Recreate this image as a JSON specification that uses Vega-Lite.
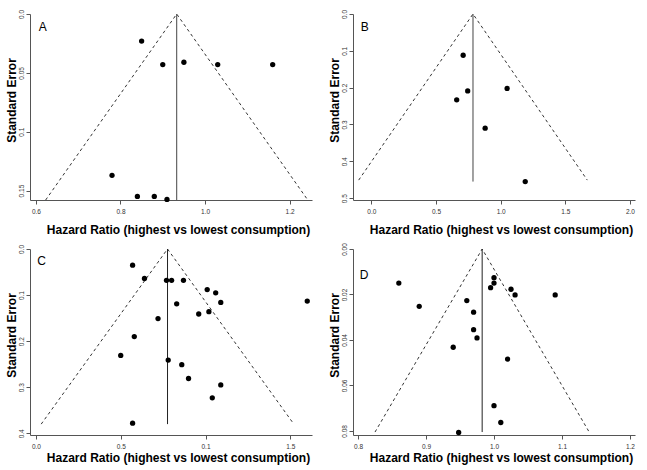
{
  "$schema": "https://vega.github.io/schema/vega-lite/v6.json",
  "padding": {"left": 5, "top": 9, "right": 5, "bottom": 5},
  "background": "white",
  "config": {
    "font": "Liberation Sans",
    "view": {"stroke": null},
    "axis": {
      "grid": false,
      "domainColor": "#555",
      "tickColor": "#555",
      "tickSize": 4,
      "labelFontSize": 6.5,
      "labelColor": "#333",
      "labelOverlap": false,
      "labelBound": false,
      "labelFlush": false,
      "titleFontSize": 12,
      "titleFontWeight": "bold",
      "titleColor": "#000"
    },
    "axisX": {"labelBaseline": "middle", "labelPadding": 7.6, "titleX": 148, "titleBaseline": "middle", "titleAlign": "center", "labelOverlap": false},
    "axisY": {"labelAngle": 270, "labelAlign": "center", "labelBaseline": "middle", "labelPadding": 5, "titleX": -19, "titleY": 86, "titleBaseline": "middle", "titleAlign": "center", "titleAngle": 270, "labelOverlap": false}
  },
  "bounds": "flush",
  "columns": 2,
  "spacing": {"row": 49, "column": 41},
  "concat": [
    {
      "width": 282, "height": 186,
      "layer": [
        {
          "data": {"values": [{"hr": 0.623, "se": 0.158}, {"hr": 0.933, "se": 0}, {"hr": 1.243, "se": 0.158}]},
          "mark": {"type": "line", "color": "#333", "strokeWidth": 1, "strokeDash": [3, 3]},
          "encoding": {
            "x": {"field": "hr", "type": "quantitative", "scale": {"domain": [0.586, 1.253], "nice": false, "zero": false}, "axis": {"values": [0.6, 0.8, 1.0, 1.2], "tickCount": 12, "format": ".1f", "labelOverlap": false, "title": "Hazard Ratio (highest vs lowest consumption)", "titleY": 29}},
            "y": {"field": "se", "type": "quantitative", "scale": {"domain": [0, 0.158], "nice": false, "reverse": true}, "axis": {"values": [0, 0.05, 0.1, 0.15], "tickCount": 12, "labelOverlap": false, "labelExpr": "datum.value == 0 ? '0.0' : format(datum.value, '.2~f')", "title": "Standard Error"}}
          }
        },
        {
          "data": {"values": [{"hr": 0.933, "se": 0, "se2": 0.158}]},
          "mark": {"type": "rule", "color": "#444", "strokeWidth": 1},
          "encoding": {"x": {"field": "hr", "type": "quantitative"}, "y": {"field": "se", "type": "quantitative"}, "y2": {"field": "se2"}}
        },
        {
          "data": {"values": [
            {"hr": 0.85, "se": 0.023}, {"hr": 0.90, "se": 0.043}, {"hr": 0.95, "se": 0.041},
            {"hr": 1.03, "se": 0.043}, {"hr": 1.16, "se": 0.043}, {"hr": 0.78, "se": 0.137},
            {"hr": 0.84, "se": 0.155}, {"hr": 0.88, "se": 0.155}, {"hr": 0.91, "se": 0.1575}
          ]},
          "mark": {"type": "point", "filled": true, "color": "#000", "opacity": 1, "size": 28},
          "encoding": {"x": {"field": "hr", "type": "quantitative"}, "y": {"field": "se", "type": "quantitative"}}
        },
        {
          "data": {"values": [{"hr": 0.616, "se": 0.011, "label": "A"}]},
          "mark": {"type": "text", "fontSize": 12, "color": "#000", "align": "center", "baseline": "middle"},
          "encoding": {"x": {"field": "hr", "type": "quantitative"}, "y": {"field": "se", "type": "quantitative"}, "text": {"field": "label"}}
        }
      ]
    },
    {
      "width": 282, "height": 186,
      "layer": [
        {
          "data": {"values": [{"hr": -0.098, "se": 0.451}, {"hr": 0.786, "se": 0}, {"hr": 1.670, "se": 0.451}]},
          "mark": {"type": "line", "color": "#333", "strokeWidth": 1, "strokeDash": [3, 3]},
          "encoding": {
            "x": {"field": "hr", "type": "quantitative", "scale": {"domain": [-0.142, 2.039], "nice": false, "zero": false}, "axis": {"values": [0, 0.5, 1.0, 1.5, 2.0], "tickCount": 12, "format": ".1f", "labelOverlap": false, "title": "Hazard Ratio (highest vs lowest consumption)", "titleY": 29}},
            "y": {"field": "se", "type": "quantitative", "scale": {"domain": [0, 0.505], "nice": false, "reverse": true}, "axis": {"values": [0, 0.1, 0.2, 0.3, 0.4, 0.5], "tickCount": 12, "format": ".1f", "labelOverlap": false, "title": "Standard Error"}}
          }
        },
        {
          "data": {"values": [{"hr": 0.786, "se": 0, "se2": 0.455}]},
          "mark": {"type": "rule", "color": "#444", "strokeWidth": 1},
          "encoding": {"x": {"field": "hr", "type": "quantitative"}, "y": {"field": "se", "type": "quantitative"}, "y2": {"field": "se2"}}
        },
        {
          "data": {"values": [
            {"hr": 0.71, "se": 0.112}, {"hr": 0.745, "se": 0.209}, {"hr": 0.66, "se": 0.233},
            {"hr": 1.05, "se": 0.202}, {"hr": 0.88, "se": 0.31}, {"hr": 1.19, "se": 0.455}
          ]},
          "mark": {"type": "point", "filled": true, "color": "#000", "opacity": 1, "size": 28},
          "encoding": {"x": {"field": "hr", "type": "quantitative"}, "y": {"field": "se", "type": "quantitative"}}
        },
        {
          "data": {"values": [{"hr": -0.052, "se": 0.034, "label": "B"}]},
          "mark": {"type": "text", "fontSize": 12, "color": "#000", "align": "center", "baseline": "middle"},
          "encoding": {"x": {"field": "hr", "type": "quantitative"}, "y": {"field": "se", "type": "quantitative"}, "text": {"field": "label"}}
        }
      ]
    },
    {
      "width": 282, "height": 186,
      "layer": [
        {
          "data": {"values": [{"hr": 0.031, "se": 0.38}, {"hr": 0.776, "se": 0}, {"hr": 1.521, "se": 0.38}]},
          "mark": {"type": "line", "color": "#333", "strokeWidth": 1, "strokeDash": [3, 3]},
          "encoding": {
            "x": {"field": "hr", "type": "quantitative", "scale": {"domain": [-0.035, 1.628], "nice": false, "zero": false}, "axis": {"values": [0, 0.5, 1.0, 1.5], "tickCount": 12, "labelOverlap": false, "labelExpr": "datum.value == 1 ? '0.1' : format(datum.value, '.1f')", "title": "Hazard Ratio (highest vs lowest consumption)", "titleY": 22}},
            "y": {"field": "se", "type": "quantitative", "scale": {"domain": [0, 0.4036], "nice": false, "reverse": true}, "axis": {"values": [0, 0.1, 0.2, 0.3, 0.4], "tickCount": 12, "format": ".1f", "labelOverlap": false, "title": "Standard Error"}}
          }
        },
        {
          "data": {"values": [{"hr": 0.776, "se": 0, "se2": 0.38}]},
          "mark": {"type": "rule", "color": "#222", "strokeWidth": 1},
          "encoding": {"x": {"field": "hr", "type": "quantitative"}, "y": {"field": "se", "type": "quantitative"}, "y2": {"field": "se2"}}
        },
        {
          "data": {"values": [
            {"hr": 0.57, "se": 0.035}, {"hr": 0.64, "se": 0.064}, {"hr": 0.77, "se": 0.068},
            {"hr": 0.80, "se": 0.068}, {"hr": 0.87, "se": 0.068}, {"hr": 1.01, "se": 0.088},
            {"hr": 1.06, "se": 0.095}, {"hr": 1.09, "se": 0.116}, {"hr": 1.60, "se": 0.113},
            {"hr": 0.83, "se": 0.119}, {"hr": 1.02, "se": 0.136}, {"hr": 0.96, "se": 0.141},
            {"hr": 0.72, "se": 0.151}, {"hr": 0.58, "se": 0.19}, {"hr": 0.50, "se": 0.231},
            {"hr": 0.78, "se": 0.241}, {"hr": 0.86, "se": 0.251}, {"hr": 0.90, "se": 0.281},
            {"hr": 1.09, "se": 0.295}, {"hr": 1.04, "se": 0.323}, {"hr": 0.57, "se": 0.378}
          ]},
          "mark": {"type": "point", "filled": true, "color": "#000", "opacity": 1, "size": 28},
          "encoding": {"x": {"field": "hr", "type": "quantitative"}, "y": {"field": "se", "type": "quantitative"}}
        },
        {
          "data": {"values": [{"hr": 0.034, "se": 0.026, "label": "C"}]},
          "mark": {"type": "text", "fontSize": 12, "color": "#000", "align": "center", "baseline": "middle"},
          "encoding": {"x": {"field": "hr", "type": "quantitative"}, "y": {"field": "se", "type": "quantitative"}, "text": {"field": "label"}}
        }
      ]
    },
    {
      "width": 282, "height": 186,
      "layer": [
        {
          "data": {"values": [{"hr": 0.825, "se": 0.0805}, {"hr": 0.9826, "se": 0}, {"hr": 1.140, "se": 0.0805}]},
          "mark": {"type": "line", "color": "#333", "strokeWidth": 1, "strokeDash": [3, 3]},
          "encoding": {
            "x": {"field": "hr", "type": "quantitative", "scale": {"domain": [0.7926, 1.2074], "nice": false, "zero": false}, "axis": {"values": [0.8, 0.9, 1.0, 1.1, 1.2], "tickCount": 12, "format": ".1f", "labelOverlap": false, "title": "Hazard Ratio (highest vs lowest consumption)", "titleY": 22}},
            "y": {"field": "se", "type": "quantitative", "scale": {"domain": [0, 0.0818], "nice": false, "reverse": true}, "axis": {"values": [0, 0.02, 0.04, 0.06, 0.08], "tickCount": 12, "format": ".2f", "labelOverlap": false, "title": "Standard Error"}}
          }
        },
        {
          "data": {"values": [{"hr": 0.9826, "se": 0, "se2": 0.0805}]},
          "mark": {"type": "rule", "color": "#222", "strokeWidth": 1},
          "encoding": {"x": {"field": "hr", "type": "quantitative"}, "y": {"field": "se", "type": "quantitative"}, "y2": {"field": "se2"}}
        },
        {
          "data": {"values": [
            {"hr": 0.86, "se": 0.015}, {"hr": 1.00, "se": 0.0126}, {"hr": 1.00, "se": 0.015},
            {"hr": 0.995, "se": 0.017}, {"hr": 1.025, "se": 0.0177}, {"hr": 1.031, "se": 0.0202},
            {"hr": 1.09, "se": 0.0202}, {"hr": 0.96, "se": 0.0227}, {"hr": 0.89, "se": 0.0252},
            {"hr": 0.97, "se": 0.0278}, {"hr": 0.97, "se": 0.0355}, {"hr": 0.975, "se": 0.0391},
            {"hr": 0.94, "se": 0.0432}, {"hr": 1.02, "se": 0.0484}, {"hr": 1.00, "se": 0.0689},
            {"hr": 1.01, "se": 0.0763}, {"hr": 0.948, "se": 0.0807}
          ]},
          "mark": {"type": "point", "filled": true, "color": "#000", "opacity": 1, "size": 28},
          "encoding": {"x": {"field": "hr", "type": "quantitative"}, "y": {"field": "se", "type": "quantitative"}}
        },
        {
          "data": {"values": [{"hr": 0.809, "se": 0.0114, "label": "D"}]},
          "mark": {"type": "text", "fontSize": 12, "color": "#000", "align": "center", "baseline": "middle"},
          "encoding": {"x": {"field": "hr", "type": "quantitative"}, "y": {"field": "se", "type": "quantitative"}, "text": {"field": "label"}}
        }
      ]
    }
  ]
}
